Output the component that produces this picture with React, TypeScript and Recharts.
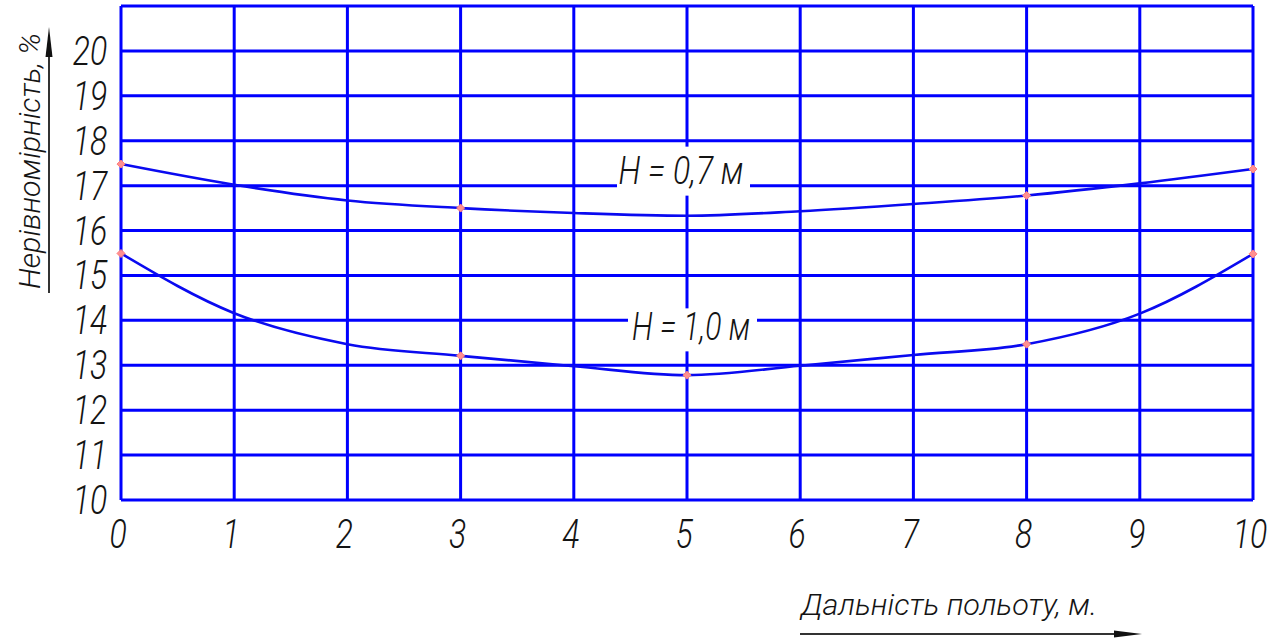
import React from "react";
import {
  LineChart,
  Line,
  XAxis,
  YAxis,
  CartesianGrid,
  ReferenceDot,
} from "recharts";

// Flight distance, m
const distanceTicks = [0, 1, 2, 3, 4, 5, 6, 7, 8, 9, 10];
// Non-uniformity, %
const nonUniformityTicks = [10, 11, 12, 13, 14, 15, 16, 17, 18, 19, 20, 21];

// Spray height H = 0.7 m (curve readings; measured points are marked)
const h07Distance = [0, 1, 2, 3, 4, 5, 6, 7, 8, 9, 10];
const h07Values = [17.48, 17.02, 16.67, 16.5, 16.39, 16.33, 16.43, 16.59, 16.78, 17.05, 17.37];
const h07Measured = [0, 3, 8, 10];

// Spray height H = 1.0 m
const h10Distance = [0, 1, 2, 3, 4, 5, 6, 7, 8, 9, 10];
const h10Values = [15.49, 14.16, 13.47, 13.21, 12.98, 12.78, 12.99, 13.23, 13.47, 14.15, 15.48];
const h10Measured = [0, 3, 5, 8, 10];

const h07Data = h07Distance.map((x, i) => ({ x, y: h07Values[i], m: h07Measured.includes(x) }));
const h10Data = h10Distance.map((x, i) => ({ x, y: h10Values[i], m: h10Measured.includes(x) }));

const W = 1284;
const H = 641;
const BLUE = "#0000ff";
const CURVE = "#0a0af0";
const INK = "#141414";
const FONT = "Roboto, 'Open Sans', sans-serif";

const Marker = (props: any) => {
  const { cx, cy, payload } = props;
  if (!payload || !payload.m) return <g />;
  return (
    <path
      d={`M${cx},${cy - 4} L${cx + 4},${cy} L${cx},${cy + 4} L${cx - 4},${cy} Z`}
      fill="#ff9090"
      stroke="#ff7a7a"
      strokeWidth={1}
    />
  );
};

const Narrow = ({ x, y, size, anchor, children }: any) => (
  <g transform={`translate(${x},${y}) scale(0.78,1)`}>
    <text
      x={0}
      y={0}
      textAnchor={anchor}
      fontFamily={FONT}
      fontStyle="italic"
      fontWeight={300}
      fontSize={size}
      fill={INK}
    >
      {children}
    </text>
  </g>
);

const XTick = (props: any) => {
  const { x, y, payload } = props;
  return (
    <Narrow x={x - 3} y={y + 40} size={41} anchor="middle">
      {payload.value}
    </Narrow>
  );
};

const YTick = (props: any) => {
  const { y, payload } = props;
  if (payload.value > 20) return <g />;
  return (
    <Narrow x={90} y={y + 14} size={41} anchor="middle">
      {payload.value}
    </Narrow>
  );
};

const CurveLabel = (props: any) => {
  const { cx, cy, text, rx0, rx1, ry0, ry1, tx, ty, len } = props;
  return (
    <g>
      <rect x={cx + rx0} y={cy + ry0} width={rx1 - rx0} height={ry1 - ry0} fill="#ffffff" />
      <text
        x={cx + tx}
        y={cy + ty}
        textAnchor="middle"
        textLength={len}
        lengthAdjust="spacingAndGlyphs"
        fontFamily={FONT}
        fontStyle="italic"
        fontWeight={300}
        fontSize={38}
        fill={INK}
      >
        {text}
      </text>
    </g>
  );
};

export default function App() {
  return (
    <div style={{ position: "absolute", left: 0, top: 0, width: W, height: H, background: "#fff" }}>
      <LineChart
        width={W}
        height={H}
        margin={{ top: 6, right: 31, bottom: 0, left: 0 }}
      >
        <CartesianGrid stroke={BLUE} strokeWidth={3} fill="none" />
        <XAxis
          type="number"
          dataKey="x"
          domain={[0, 10]}
          ticks={distanceTicks}
          interval={0}
          height={141}
          axisLine={false}
          tickLine={false}
          tick={<XTick />}
          allowDuplicatedCategory={false}
        />
        <YAxis
          type="number"
          domain={[10, 21]}
          ticks={nonUniformityTicks}
          interval={0}
          width={121}
          axisLine={false}
          tickLine={false}
          tick={<YTick />}
        />
        <ReferenceDot
          x={5}
          y={17}
          r={0}
          shape={(p: any) => (
            <CurveLabel {...p} text="H = 0,7 м" rx0={-70} rx1={63} ry0={-39} ry1={10} tx={-6} ty={-2} len={125} />
          )}
        />
        <ReferenceDot
          x={5}
          y={14}
          r={0}
          shape={(p: any) => (
            <CurveLabel {...p} text="H = 1,0 м" rx0={-59} rx1={70} ry0={-12} ry1={31} tx={4} ty={20} len={118} />
          )}
        />
        <Line
          data={h07Data}
          dataKey="y"
          type="monotone"
          stroke={CURVE}
          strokeWidth={2.6}
          dot={<Marker />}
          activeDot={false}
          isAnimationActive={false}
        />
        <Line
          data={h10Data}
          dataKey="y"
          type="monotone"
          stroke={CURVE}
          strokeWidth={2.6}
          dot={<Marker />}
          activeDot={false}
          isAnimationActive={false}
        />
      </LineChart>
      <svg
        width={W}
        height={H}
        style={{ position: "absolute", left: 0, top: 0, pointerEvents: "none" }}
      >
        <text
          transform="translate(40,289) rotate(-90)"
          textLength={256}
          lengthAdjust="spacingAndGlyphs"
          fontFamily={FONT}
          fontStyle="italic"
          fontWeight={300}
          fontSize={29}
          fill={INK}
        >
          Нерівномірність, %
        </text>
        <line x1={49} y1={293} x2={49} y2={40} stroke="#333" strokeWidth={2} />
        <path d="M49,27 L52.5,57 L45.5,57 Z" fill="#111" />
        <text
          x={801}
          y={615}
          textLength={296}
          lengthAdjust="spacingAndGlyphs"
          fontFamily={FONT}
          fontStyle="italic"
          fontWeight={300}
          fontSize={30}
          fill={INK}
        >
          Дальність польоту, м.
        </text>
        <line x1={800} y1={634} x2={1125} y2={634} stroke="#333" strokeWidth={2} />
        <path d="M1142,634 L1114,630.5 L1114,637.5 Z" fill="#111" />
      </svg>
    </div>
  );
}
